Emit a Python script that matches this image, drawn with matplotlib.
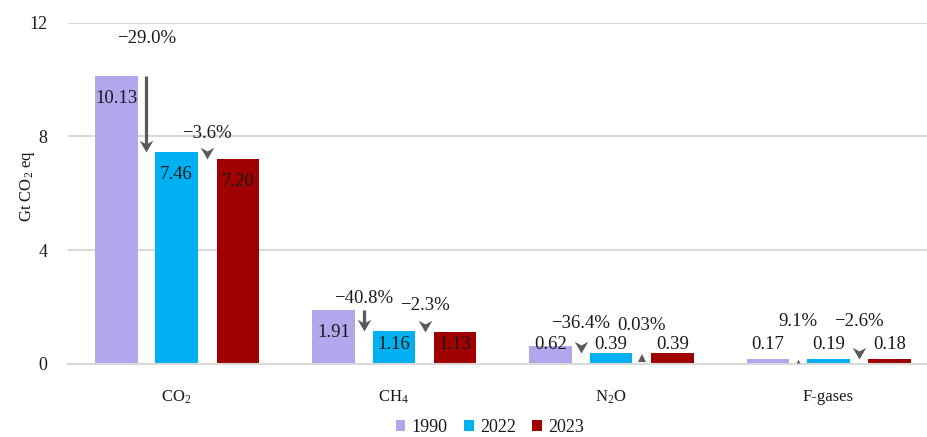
import numpy as np
from matplotlib import pyplot as plt
from matplotlib.path import Path

plt.rcParams['font.family'] = ['Liberation Serif', 'DejaVu Serif']
plt.rcParams['mathtext.fontset'] = 'custom'
plt.rcParams['mathtext.rm'] = 'Liberation Serif'
plt.rcParams['mathtext.it'] = 'Liberation Serif:italic'

# data
gases = ['CO$_2$', 'CH$_4$', 'N$_2$O', 'F-gases']
years = ['1990', '2022', '2023']
v1990 = [10.13, 1.91, 0.62, 0.17]
v2022 = [7.46, 1.16, 0.39, 0.19]
v2023 = [7.20, 1.13, 0.39, 0.18]
# change 1990->2022 and 2022->2023
chg_a = ['\u221229.0%', '\u221240.8%', '\u221236.4%', '9.1%']
chg_b = ['\u22123.6%', '\u22122.3%', '0.03%', '\u22122.6%']

# layout of the change labels (data units)
lab_y_a = [11.43, 2.32, 1.44, 1.51]
lab_y_b = [8.12, 2.04, 1.34, 1.51]

colors = ['#B3A6ED', '#00B0F0', '#A00000']
arrow_col = '#595959'
txt_col = '#1a1a1a'
grid_col = '#D9D9D9'

fig = plt.figure(figsize=(9.28, 4.37), dpi=100)
ax = fig.add_axes([68/928, 73/437, 869/928, 341.3/437])

x = np.arange(len(gases))
off = [-0.278, 0.0, 0.282]
w = 0.196
series = [v1990, v2022, v2023]
for k, vals in enumerate(series):
    ax.bar(x + off[k], vals, w, color=colors[k], label=years[k], zorder=2)
    for xi, v in zip(x, vals):
        ax.text(xi + off[k], max(v - 0.8, 0.67), '%.2f' % v, ha='center', va='center',
                fontsize=13.5, color=txt_col, zorder=4)

# arrow head with tip at origin
head = Path([(-0.58, 1.0), (0, 0), (0.58, 1.0), (0, 0.68), (-0.58, 1.0)],
            [Path.MOVETO, Path.LINETO, Path.LINETO, Path.LINETO, Path.CLOSEPOLY])
head_len = 12 / 28.44


def draw_change(xc, v0, v1, label, ly):
    if v1 < v0:
        if v0 - v1 > head_len:
            ax.plot([xc, xc], [v0, v1 + head_len * 0.6], color=arrow_col, lw=2.3,
                    solid_capstyle='butt', zorder=3)
        ax.plot([xc], [v1], marker=head, markersize=17, color=arrow_col,
                markeredgewidth=0, zorder=3)
    else:
        ax.plot([xc], [v1 / 2], marker='^', markersize=v1 * 14, color=arrow_col,
                markeredgewidth=0, zorder=3)
    ax.text(xc, ly, label, ha='center', va='center', fontsize=13.5, color=txt_col, zorder=4)


for i in range(len(gases)):
    draw_change(x[i] + (off[0] + off[1]) / 2, v1990[i], v2022[i], chg_a[i], lab_y_a[i])
    draw_change(x[i] + (off[1] + off[2]) / 2, v2022[i], v2023[i], chg_b[i], lab_y_b[i])

ax.set_xlim(-0.5, len(gases) - 0.5)
ax.set_ylim(0, 12)
ax.set_yticks([0, 4, 8, 12])
ax.set_xticks(x)
ax.set_xticklabels(gases, fontsize=12, color=txt_col)
ax.tick_params(axis='x', length=0, pad=18)
ax.tick_params(axis='y', length=0, pad=15, labelsize=13, labelcolor=txt_col)
ax.grid(axis='y', color=grid_col, lw=1.5, zorder=0)
for s in ['top', 'right', 'left']:
    ax.spines[s].set_visible(False)
ax.spines['bottom'].set_color(grid_col)
ax.spines['bottom'].set_linewidth(1.5)

ax.set_ylabel('Gt CO$_2$ eq', fontsize=12, color=txt_col)
ax.yaxis.set_label_coords(-0.036, 0.52)

fig.legend(loc='center', bbox_to_anchor=(490/928, 9.5/437), ncol=3, frameon=False,
           fontsize=13, handlelength=0.55, handleheight=0.55, handletextpad=0.35,
           columnspacing=0.9, labelcolor=txt_col, borderpad=0.1)

fig.savefig('out.png', dpi=100)
